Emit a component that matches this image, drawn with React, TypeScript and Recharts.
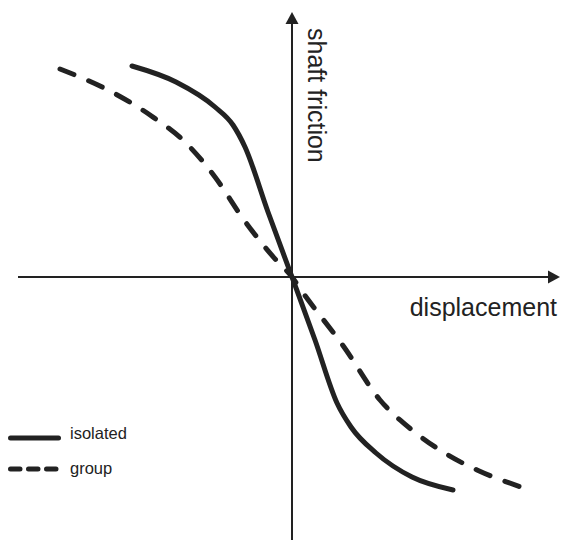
import React from 'react';
import { LineChart, Line, XAxis, YAxis, ReferenceLine, Label, Legend } from 'recharts';

// Displacement (x) and shaft friction (y) in arbitrary units, origin at the axes crossing
const isolatedX = [-3.2, -2.32, -1.54, -1.18, -0.94, -0.48, 0, 0.46, 0.9, 1.18, 1.68, 2.4, 3.22];
const isolatedY = [4.22, 3.9, 3.4, 3.04, 2.6, 1.3, 0, -1.26, -2.52, -3.0, -3.52, -4.0, -4.26];

const groupX = [-4.64, -3.68, -2.84, -2.12, -1.54, -0.96, -0.32, 0, 0.18, 1.04, 1.76, 2.4, 3.12, 3.7, 4.58];
const groupY = [4.16, 3.74, 3.24, 2.68, 2.0, 1.14, 0.34, 0, -0.26, -1.4, -2.46, -3.06, -3.56, -3.86, -4.2];

const xDomain = [-5.84, 5.4];
const yDomain = [-5.26, 5.54];
const xAxisSpan = [-5.48, 5.36];
const yAxisSpan = [-5.26, 5.3];

const seriesNames = ['isolated', 'group'];
const xAxisTitle = 'displacement';
const yAxisTitle = 'shaft friction';

const isolatedData = isolatedX.map((x, i) => ({ x, y: isolatedY[i] }));
const groupData = groupX.map((x, i) => ({ x, y: groupY[i] }));

const INK = '#222';
const FONT = '"Liberation Sans", Arial, Helvetica, sans-serif';

const HArrow = (p: any) => {
  const { x1, y1, x2, y2 } = p;
  const xs = Math.min(x1, x2);
  const xe = Math.max(x1, x2);
  const y = y1;
  return (
    <g>
      <line x1={xs} y1={y} x2={xe - 8} y2={y2} stroke={INK} strokeWidth={2} />
      <polygon points={`${xe},${y} ${xe - 12},${y - 6.5} ${xe - 12},${y + 6.5}`} fill={INK} />
    </g>
  );
};

const VArrow = (p: any) => {
  const { x1, y1, y2 } = p;
  const ys = Math.min(y1, y2);
  const ye = Math.max(y1, y2);
  const x = x1;
  return (
    <g>
      <line x1={x} y1={ys + 8} x2={x} y2={ye} stroke={INK} strokeWidth={2} />
      <polygon points={`${x},${ys} ${x - 6.5},${ys + 12} ${x + 6.5},${ys + 12}`} fill={INK} />
    </g>
  );
};

const XTitle = (props: any) => {
  const vb = props.viewBox || {};
  return (
    <text
      x={vb.x + vb.width - 3}
      y={vb.y + 39}
      textAnchor="end"
      fontFamily={FONT}
      fontSize={25}
      fill={INK}
    >
      {xAxisTitle}
    </text>
  );
};

const YTitle = (props: any) => {
  const vb = props.viewBox || {};
  const x = vb.x + 16;
  const y = vb.y + 16;
  return (
    <text
      x={x}
      y={y}
      transform={`rotate(90 ${x} ${y})`}
      textAnchor="start"
      fontFamily={FONT}
      fontSize={25}
      fill={INK}
    >
      {yAxisTitle}
    </text>
  );
};

const LegendContent = () => (
  <svg width={150} height={70} style={{ display: 'block' }}>
    <line x1={10.5} y1={23} x2={58.5} y2={23} stroke={INK} strokeWidth={5} strokeLinecap="round" />
    <text x={70} y={24} fontFamily={FONT} fontSize={16.5} fill={INK}>{seriesNames[0]}</text>
    <line x1={10.5} y1={54} x2={56} y2={54} stroke={INK} strokeWidth={5} strokeLinecap="round" strokeDasharray="9.5 8.5" />
    <text x={70} y={59} fontFamily={FONT} fontSize={16.5} fill={INK}>{seriesNames[1]}</text>
  </svg>
);

export default function App() {
  return (
    <div style={{ position: 'absolute', left: 0, top: 0, background: '#fff' }}>
      <LineChart width={562} height={540} margin={{ top: 0, right: 0, bottom: 0, left: 0 }}>
        <XAxis type="number" dataKey="x" domain={xDomain} hide allowDataOverflow />
        <YAxis type="number" dataKey="y" domain={yDomain} hide allowDataOverflow />
        <ReferenceLine
          segment={[{ x: xAxisSpan[0], y: 0 }, { x: xAxisSpan[1], y: 0 }]}
          shape={HArrow}
          ifOverflow="visible"
        >
          <Label content={XTitle} />
        </ReferenceLine>
        <ReferenceLine
          segment={[{ x: 0, y: yAxisSpan[0] }, { x: 0, y: yAxisSpan[1] }]}
          shape={VArrow}
          ifOverflow="visible"
        >
          <Label content={YTitle} />
        </ReferenceLine>
        <Line
          data={groupData}
          dataKey="y"
          name={seriesNames[1]}
          type="monotone"
          stroke={INK}
          strokeWidth={5}
          strokeDasharray="15 16"
          strokeLinecap="round"
          dot={false}
          activeDot={false}
          isAnimationActive={false}
        />
        <Line
          data={isolatedData}
          dataKey="y"
          name={seriesNames[0]}
          type="monotone"
          stroke={INK}
          strokeWidth={5}
          strokeLinecap="round"
          dot={false}
          activeDot={false}
          isAnimationActive={false}
        />
        <Legend
          layout="vertical"
          align="center"
          verticalAlign="middle"
          content={LegendContent}
          wrapperStyle={{ left: 0, top: 415, width: 150, height: 70 }}
        />
      </LineChart>
    </div>
  );
}
